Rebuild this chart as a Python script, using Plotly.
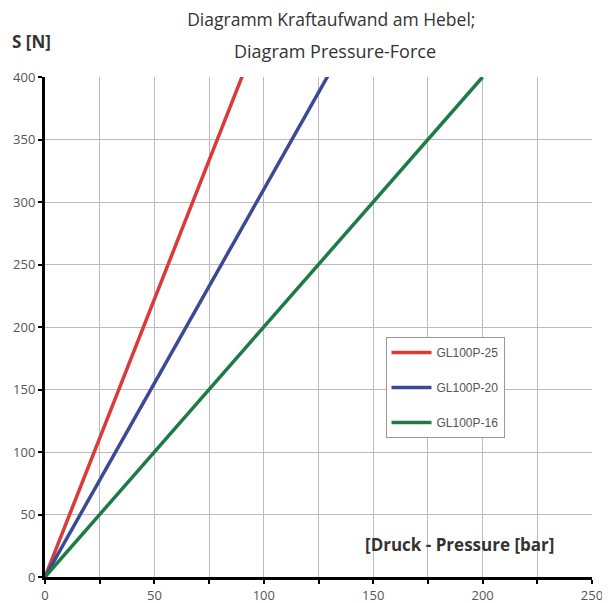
import plotly.graph_objects as go

# Data
series_names = ["GL100P-25", "GL100P-20", "GL100P-16"]
pressure_bar = [0, 200]
force_25 = [0, 400 * 200 / 90]
force_20 = [0, 400 * 200 / 129]
force_16 = [0, 400]
colors = ["#d93a3a", "#3c4a96", "#1e7a46"]
x_ticks = [0, 50, 100, 150, 200, 250]
y_ticks = [0, 50, 100, 150, 200, 250, 300, 350, 400]

fig = go.Figure()
for name, ys, c in zip(series_names, [force_25, force_20, force_16], colors):
    fig.add_trace(go.Scatter(x=pressure_bar, y=ys, mode="lines", name=name,
                             legendgroup=name,
                             line=dict(color=c, width=3.5)))

# page body adds an 8px offset; margins compensate
fig.update_layout(
    width=610, height=603,
    paper_bgcolor="white", plot_bgcolor="white",
    margin=dict(l=37, r=26, t=69, b=34, autoexpand=False),
    font=dict(family="Open Sans", color="#444"),
    title=dict(text="Diagramm Kraftaufwand am Hebel;",
               x=0.53, xanchor="center", y=0.99, yanchor="top",
               pad=dict(t=0),
               font=dict(size=17.5, color="#333")),
    showlegend=True,
    legend=dict(x=0.6225, y=0.48, xanchor="left", yanchor="top",
                bgcolor="white", bordercolor="#999", borderwidth=1,
                font=dict(family="Liberation Sans", size=12, color="#555"),
                tracegroupgap=16, itemwidth=40),
)
fig.update_xaxes(range=[0, 250], tickvals=x_ticks, showgrid=False, automargin=False,
                 showline=True, linecolor="black", linewidth=3,
                 ticks="outside", ticklen=4, tickwidth=2, tickcolor="black",
                 tickfont=dict(size=13, color="#555"), zeroline=False)
fig.update_xaxes(minor=dict(dtick=25, showgrid=True, gridcolor="#bbb", gridwidth=1,
                            ticks="outside", ticklen=4, tickcolor="black"))
fig.update_yaxes(range=[0, 400], tickvals=y_ticks, showgrid=True, gridcolor="#bbb",
                 gridwidth=1, showline=True, linecolor="black", linewidth=3,
                 automargin=False,
                 ticks="outside", ticklen=4, tickwidth=2, tickcolor="black",
                 tickfont=dict(size=13, color="#555"), zeroline=False)

fig.add_annotation(text="Diagram Pressure-Force", xref="paper", yref="paper",
                   x=0.531, y=1.052, xanchor="center", yanchor="middle", showarrow=False,
                   font=dict(size=18, color="#333"))
fig.add_annotation(text="<b>S [N]</b>", xref="paper", yref="paper", x=-0.064, y=1.07,
                   xanchor="left", yanchor="middle", showarrow=False,
                   font=dict(size=17, color="#333"))
fig.add_annotation(text="<b>[Druck - Pressure [bar]</b>", xref="paper", yref="paper",
                   x=0.934, y=0.065, xanchor="right", yanchor="middle", showarrow=False,
                   font=dict(size=17, color="#333"))

fig.write_html("out.html")
